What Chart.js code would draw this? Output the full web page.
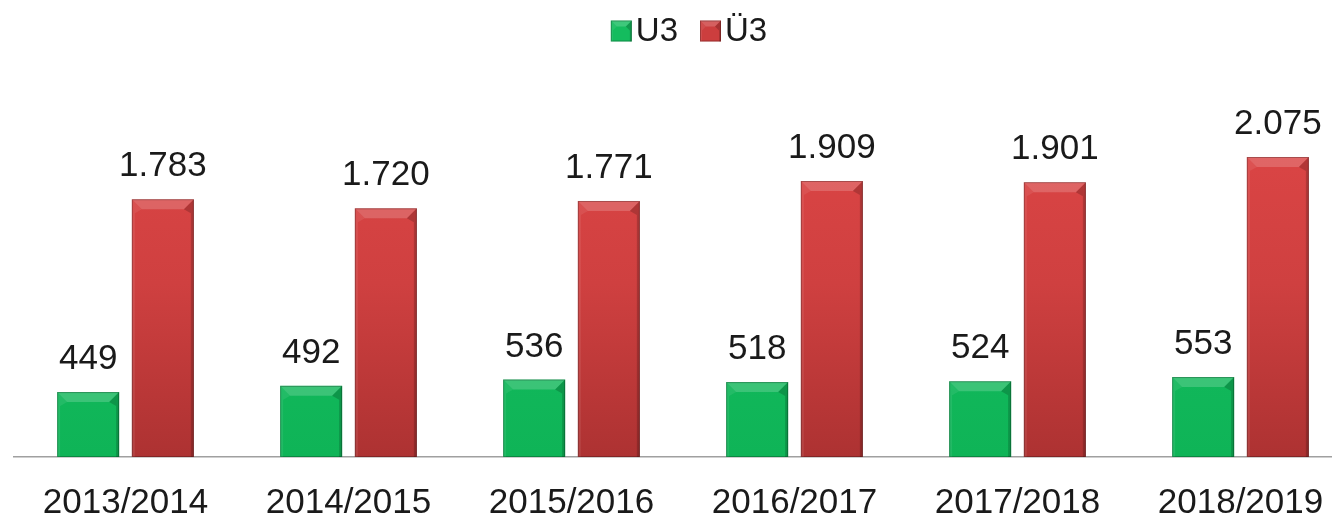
<!DOCTYPE html>
<html>
<head>
<meta charset="utf-8">
<script src="https://cdn.jsdelivr.net/npm/chart.js@4.4.1/dist/chart.umd.min.js"></script>
<style>
  html, body { margin: 0; padding: 0; background: #fff; overflow: hidden; }
  #wrap { width: 1352px; height: 516px; position: relative; }
</style>
</head>
<body>
<div id="wrap"><canvas id="kitaChart"></canvas></div>
<script>
// Kinder in Betreuung, U3 und Ü3 je Kindergartenjahr
const years = ['2013/2014', '2014/2015', '2015/2016', '2016/2017', '2017/2018', '2018/2019'];
const seriesNames = ['U3', 'Ü3'];
const u3Values = [449, 492, 536, 518, 524, 553];
const ue3Values = [1783, 1720, 1771, 1909, 1901, 2075];
const seriesColors = ['#14bc5e', '#cc3e3e'];

const FONT = '"Liberation Sans", Arial, sans-serif';

function formatDe(n) {
    return String(n).replace(/\B(?=(\d{3})+(?!\d))/g, '.');
}

function greenFill(ctx) {
    const area = ctx.chart.chartArea;
    if (!area) return '#12b85c';
    const g = ctx.chart.ctx.createLinearGradient(0, area.top, 0, area.bottom);
    g.addColorStop(0, '#16c064');
    g.addColorStop(1, '#0fb457');
    return g;
}

function redFill(ctx) {
    const area = ctx.chart.chartArea;
    if (!area) return '#cc3e3e';
    const g = ctx.chart.ctx.createLinearGradient(0, area.top, 0, area.bottom);
    g.addColorStop(0, '#de4646');
    g.addColorStop(0.5, '#cf4040');
    g.addColorStop(1, '#ad3232');
    return g;
}

function drawBevel(c, l, t, r, b, bt, bs) {
    c.save();
    c.fillStyle = 'rgba(255,255,255,0.18)';
    c.beginPath();
    c.moveTo(l, t); c.lineTo(r, t); c.lineTo(r - bt, t + bt); c.lineTo(l + bt, t + bt);
    c.closePath(); c.fill();
    c.fillStyle = 'rgba(255,255,255,0.08)';
    c.beginPath();
    c.moveTo(l, t); c.lineTo(l + bt, t + bt); c.lineTo(l + bs, t + bt + 4); c.lineTo(l + bs, b); c.lineTo(l, b);
    c.closePath(); c.fill();
    c.fillStyle = 'rgba(0,0,0,0.18)';
    c.beginPath();
    c.moveTo(r, t); c.lineTo(r - bt, t + bt); c.lineTo(r - bs, t + bt + 4); c.lineTo(r - bs, b); c.lineTo(r, b);
    c.closePath(); c.fill();
    c.strokeStyle = 'rgba(0,0,0,0.25)';
    c.lineWidth = 1;
    c.strokeRect(l + 0.5, t + 0.5, r - l - 1, b - t - 1);
    c.restore();
}

// bevel look on the bars
const bevelPlugin = {
    id: 'bevel',
    afterDatasetsDraw(chart) {
        chart.data.datasets.forEach((ds, i) => {
            chart.getDatasetMeta(i).data.forEach(bar => {
                drawBevel(chart.ctx, bar.x - bar.width / 2, bar.y, bar.x + bar.width / 2, bar.base, 10, 3);
            });
        });
    }
};

const valueLabels = {
    id: 'valueLabels',
    afterDatasetsDraw(chart) {
        const c = chart.ctx;
        c.save();
        c.font = '35px ' + FONT;
        c.fillStyle = '#1a1a1a';
        c.textAlign = 'center';
        c.textBaseline = 'alphabetic';
        chart.data.datasets.forEach((ds, i) => {
            chart.getDatasetMeta(i).data.forEach((bar, j) => {
                c.fillText(formatDe(ds.data[j]), bar.x, bar.y - 23);
            });
        });
        c.restore();
    }
};

// tight legend: box right next to the text
const tightLegend = {
    id: 'tightLegend',
    afterDraw(chart) {
        const c = chart.ctx;
        c.save();
        c.font = '33px ' + FONT;
        const box = 21, gap = 4, itemGap = 22;
        const widths = seriesNames.map(n => box + gap + c.measureText(n).width);
        const total = widths.reduce((a, b) => a + b, 0) + itemGap * (widths.length - 1);
        let x = chart.width / 2 + 13 - total / 2;
        const midY = 31;
        seriesNames.forEach((name, i) => {
            c.fillStyle = seriesColors[i];
            c.fillRect(x, midY - box / 2, box, box);
            drawBevel(c, x, midY - box / 2, x + box, midY + box / 2, 6, 2);
            c.fillStyle = '#1a1a1a';
            c.textAlign = 'left';
            c.textBaseline = 'middle';
            c.fillText(name, x + box + gap, midY + 1);
            x += widths[i] + itemGap;
        });
        c.restore();
    }
};

document.addEventListener('DOMContentLoaded', () => {
    const ctx = document.getElementById('kitaChart').getContext('2d');
    new Chart(ctx, {
        type: 'bar',
        data: {
            labels: years,
            datasets: [{
                label: seriesNames[0],
                data: u3Values,
                backgroundColor: greenFill,
                borderWidth: 0,
                barPercentage: 0.83,
                categoryPercentage: 0.67
            }, {
                label: seriesNames[1],
                data: ue3Values,
                backgroundColor: redFill,
                borderWidth: 0,
                barPercentage: 0.83,
                categoryPercentage: 0.67
            }]
        },
        options: {
            responsive: true,
            maintainAspectRatio: false,
            animation: false,
            layout: { padding: { left: 14, right: 0, top: 110, bottom: -33 } },
            plugins: {
                tooltip: { enabled: false },
                legend: { display: false }
            },
            scales: {
                x: {
                    grid: { display: false, drawTicks: false },
                    border: { display: true, color: '#a0a0a0', width: 1.5 },
                    ticks: {
                        color: '#1a1a1a',
                        font: { family: FONT, size: 35 },
                        padding: 25,
                        maxRotation: 0,
                        autoSkip: false
                    }
                },
                y: {
                    display: false,
                    min: 0,
                    max: 2400
                }
            }
        },
        plugins: [bevelPlugin, valueLabels, tightLegend]
    });
});
</script>
</body>
</html>
